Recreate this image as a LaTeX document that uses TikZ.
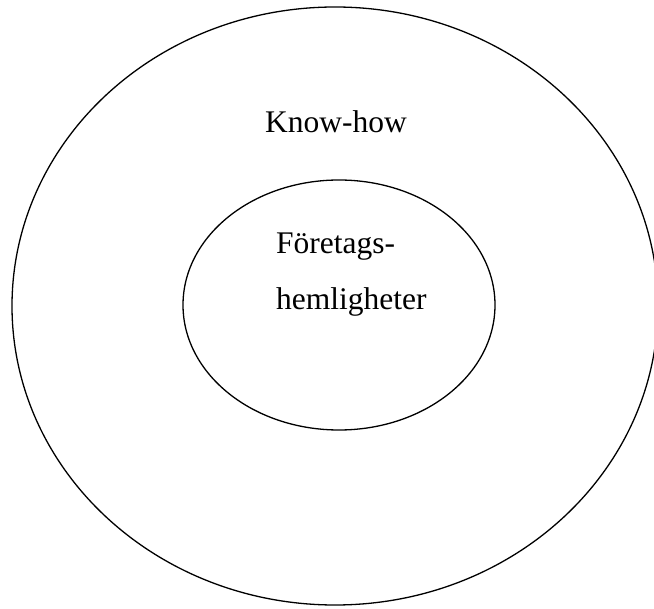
\documentclass[tikz,border=0pt]{standalone}
\usepackage{fontspec}
\setmainfont{Liberation Serif}
\begin{document}
\begin{tikzpicture}[x=1pt, y=-1pt,
    ring/.style ={draw, line width=1.3pt},
    label/.style ={anchor=base west, inner sep=0pt, font=\fontsize{31.5}{38}\selectfont}]
   \useasboundingbox (0,0) rectangle (654,609);
   \draw[ring] (335,306) ellipse [x radius=323, y radius=299];
   \draw[ring] (339,305) ellipse [x radius=156, y radius=125];

   \node[label] (knowhow) at (265,133) {Know-how};
   \node[label] (foretags) at (276,254) {Företags-};
   \node[label] (hemlig) at (276,310) {hemligheter};
 \end{tikzpicture}
\end{document}
